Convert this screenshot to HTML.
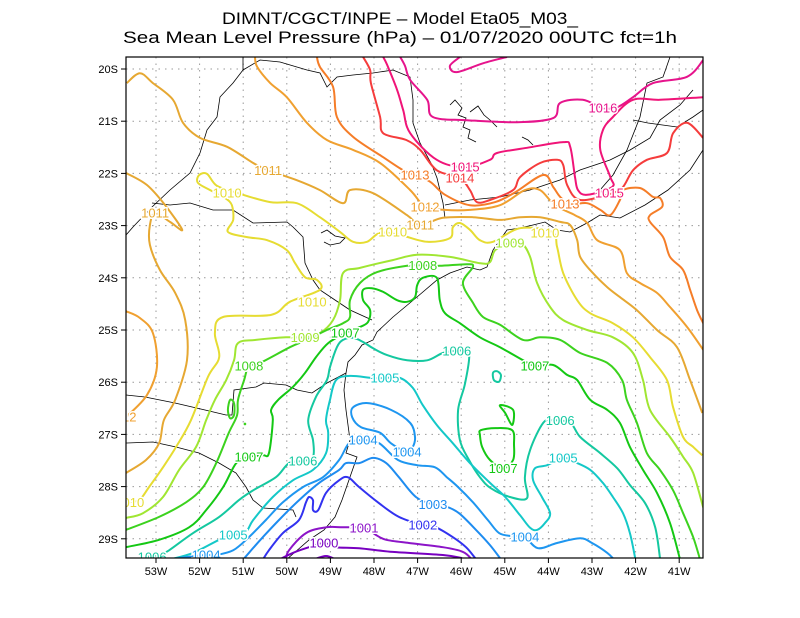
<!DOCTYPE html>
<html><head><meta charset="utf-8">
<style>
html,body{margin:0;padding:0;background:#fff;}
svg{display:block;font-family:"Liberation Sans",sans-serif;}
</style></head>
<body>
<svg id="chart" width="800" height="618" viewBox="0 0 800 618" xmlns="http://www.w3.org/2000/svg">
<rect width="800" height="618" fill="#fff"/>
<text x="400" y="24" text-anchor="middle" font-size="17" textLength="356" lengthAdjust="spacingAndGlyphs">DIMNT/CGCT/INPE –  Model Eta05_M03_</text>
<text x="400" y="43" text-anchor="middle" font-size="17" textLength="554" lengthAdjust="spacingAndGlyphs">Sea Mean Level Pressure (hPa) – 01/07/2020 00UTC fct=1h</text>
<defs><clipPath id="plotclip"><rect x="126" y="57" width="577" height="501"/></clipPath></defs>
<g id="grid"></g>
<g id="geo" clip-path="url(#plotclip)" fill="none" stroke="#000" stroke-width="0.8">
<polyline points="703,150 690,170 668,190 645,205 620,218 600,215 587,223 570,232 557,230 545,222 533,225 520,228 507,230 500,240 493,250 487,267 480,270 467,267 450,273 437,280 417,297 393,317 377,332 373,340 362,345 355,355 348,362 346,373 344,390 346,410 348,425 350,440 346,453 357,457 350,477 342,500 335,517 324,530 309,540 294,553 286,560"/>
<polyline points="243,57 243,70 233,83 220,97 217,117 207,130 200,153 190,173 170,190 152,207 133,227 126,235"/>
<polyline points="152,203 170,205 190,203 213,210 233,210 253,223 287,222 293,227 303,237 305,263 313,280 320,290 335,300 350,310 372,320"/>
<polyline points="243,70 260,60 280,62 307,70 320,73 327,87 337,77 353,75 373,73 393,70 410,77 413,100 413,123 420,143 432,165 437,178 443,203 445,218"/>
<polyline points="445,205 470,200 500,197 530,190 560,180 580,170 610,160 630,150 650,138 660,120 680,105 693,90"/>
<polyline points="670,57 663,77 647,83 640,117 627,150 613,175 600,190"/>
<polyline points="703,110 693,117 677,127 648,123 633,120"/>
<polyline points="126,395 145,397 175,403 205,410 226,415 232,415 234,390 256,387 264,383 286,385 297,390 312,393 327,383 346,373"/>
<polyline points="126,443 153,442 176,447 199,453 219,463 236,473 246,487 253,500 263,508 293,510 296,517"/>
<polyline points="450,105 455,100 462,108 458,115 466,118 463,127 470,130 468,138 476,142"/>
<polyline points="470,112 478,106 484,115 490,120 497,127"/>
<polyline points="522,137 528,140 533,145"/>
<polyline points="321,233 327,230 335,236 345,238 340,243 330,245 324,242"/>
</g>
<g id="contours" clip-path="url(#plotclip)" fill="none" stroke-width="2"></g>
<g id="labels" clip-path="url(#plotclip)" font-size="13" text-anchor="middle"></g>
<rect x="126" y="57" width="577" height="501" fill="none" stroke="#000" stroke-width="1.2"/>
<g id="axes" font-size="11"></g>
</svg>
<script>
// axis ticks (degrees W / S)
const lonTicks = [53,52,51,50,49,48,47,46,45,44,43,42,41];
const latTicks = [20,21,22,23,24,25,26,27,28,29];
const lonMin = 40.45, lonMax = 53.69, latMin = 19.77, latMax = 29.37;
function X(lon){ return 156 + (53 - lon) * 43.6; }
function Y(lat){ return 69 + (lat - 20) * 52.2; }

// isobars: [lon W, lat S]
const c1016a = [[46.03,19.77],[46.26,19.94],[46.10,20.06],[45.50,19.89],[44.95,19.77]];
const c1016 = [[47.40,19.77],[47.29,19.94],[47.17,20.21],[46.78,20.59],[46.65,20.92],[45.87,20.98],[44.72,21.02],[43.89,20.94],[43.73,20.65],[43.21,20.59],[42.75,20.75],[42.42,20.73],[42.06,20.54],[41.60,20.27],[40.82,20.15],[40.45,19.83]];
const c1015 = [[47.79,19.77],[47.70,19.92],[47.47,20.40],[47.33,20.79],[47.17,21.23],[46.56,21.74],[45.91,21.88],[45.34,21.74],[45.18,21.61],[44.49,21.51],[43.66,21.40],[43.50,21.49],[43.39,22.07],[43.32,22.32],[43.11,22.41],[42.54,22.26],[42.58,22.07],[42.81,21.55],[42.75,21.17],[42.52,20.92],[42.06,20.59],[41.44,20.59],[40.45,20.54]];
const c1014 = [[48.25,19.77],[48.09,20.02],[48.07,20.27],[47.86,20.92],[47.79,21.23],[47.26,21.36],[46.94,21.55],[46.56,21.94],[46.03,22.09],[45.80,22.32],[45.64,22.55],[45.34,22.51],[44.81,22.32],[44.65,22.07],[44.19,21.80],[43.80,21.74],[43.66,21.84],[43.57,22.22],[43.27,22.51],[42.54,22.38],[42.29,22.26],[42.06,21.94],[41.74,21.74],[41.28,21.61],[41.14,21.23],[40.82,21.03],[40.45,21.32]];
const c1013 = [[49.31,19.77],[49.24,19.96],[48.94,20.34],[48.85,20.92],[48.48,21.30],[47.79,21.69],[47.33,21.94],[47.06,22.03],[46.71,22.16],[46.37,22.41],[45.80,22.61],[45.22,22.55],[44.76,22.36],[44.12,22.03],[43.89,22.26],[43.73,22.45],[43.50,22.59],[43.11,22.57],[42.81,22.70],[42.58,22.80],[42.36,22.51],[42.29,22.32],[41.90,22.28],[41.60,22.45],[41.44,22.47],[41.39,22.64],[41.67,22.80],[41.67,22.93],[41.37,23.22],[41.21,23.60],[40.91,23.85],[40.75,24.23],[40.59,24.62],[40.45,24.87]];
const c1012 = [[50.73,19.77],[50.68,19.96],[50.38,20.27],[50.00,20.54],[49.54,21.03],[49.08,21.36],[48.48,21.55],[47.86,21.80],[47.17,22.32],[46.83,22.64],[46.37,22.70],[45.80,22.70],[45.11,22.61],[44.54,22.32],[44.19,22.32],[43.85,22.61],[43.39,22.80],[43.11,22.95],[42.88,23.28],[42.36,23.47],[42.20,23.91],[41.90,24.10],[41.51,24.29],[41.21,24.56],[40.82,24.94],[40.45,25.38]];
const c1012w = [[53.69,24.64],[53.37,24.77],[53.07,25.06],[52.98,25.71],[53.21,26.25],[53.69,26.67]];
const c1011 = [[53.67,20.27],[53.37,20.08],[53.07,20.27],[52.61,20.59],[52.38,21.03],[51.99,21.32],[51.37,21.49],[50.77,21.80],[50.43,21.94],[49.77,22.13],[49.24,22.32],[48.71,22.57],[48.55,22.32],[48.02,22.38],[47.24,22.80],[46.94,22.99],[46.42,22.85],[45.73,22.84],[45.11,22.89],[44.65,22.84],[44.19,22.84],[43.73,22.93],[43.50,22.99],[43.34,23.28],[43.27,23.60],[42.98,23.91],[42.65,24.18],[42.36,24.37],[41.97,24.62],[41.51,25.00],[41.05,25.33],[40.75,25.96],[40.47,26.59]];
const c1011w = [[53.69,21.99],[53.21,22.22],[52.79,22.61],[52.40,23.08],[52.68,22.93],[53.02,22.76],[53.14,22.99],[53.14,23.37],[52.91,23.85],[52.56,24.29],[52.33,24.81],[52.29,25.58],[52.56,26.34],[52.82,26.73],[52.93,27.17],[53.23,27.49],[53.69,27.74]];
const c1010 = [[40.47,27.40],[40.68,27.24],[40.91,27.05],[41.14,26.48],[41.28,25.96],[41.67,25.52],[42.06,25.14],[42.52,24.87],[43.04,24.68],[43.34,24.43],[43.66,23.91],[43.80,23.41],[43.92,23.12],[44.65,23.05],[45.27,23.31],[45.57,23.28],[45.80,23.08],[46.03,22.95],[46.19,23.03],[46.26,23.24],[46.78,23.31],[47.40,23.18],[47.86,23.14],[48.16,23.31],[48.48,23.31],[48.78,23.12],[49.24,22.84],[49.77,22.57],[50.38,22.55],[51.12,22.38],[51.60,22.24],[51.83,22.01],[52.01,22.03],[52.04,22.18],[51.76,22.32],[51.42,22.47],[51.26,22.61],[51.23,22.89],[51.35,23.12],[50.91,23.22],[50.45,23.28],[50.00,23.47],[49.81,23.72],[49.58,23.99],[49.31,24.04],[49.24,24.23],[49.93,24.46],[50.36,24.71],[51.46,24.75],[51.65,25.06],[51.55,25.52],[51.81,25.90],[52.20,26.73],[52.54,27.24],[52.84,27.63],[53.16,28.01],[53.39,28.26],[53.69,28.30]];
const c1009 = [[53.69,28.60],[53.30,28.51],[52.84,28.20],[52.47,27.68],[52.08,27.24],[51.85,26.73],[51.65,26.34],[51.39,25.96],[51.21,25.58],[51.12,25.25],[50.71,25.19],[50.02,25.14],[49.58,25.14],[49.24,25.06],[48.94,24.81],[48.78,24.43],[48.71,23.91],[48.32,23.81],[47.57,23.66],[47.01,23.56],[46.26,23.60],[45.57,23.72],[45.34,23.70],[45.22,23.47],[44.88,23.33],[44.60,23.35],[44.42,23.60],[44.26,24.10],[43.96,24.56],[43.66,24.81],[43.11,25.00],[42.52,25.14],[42.06,25.44],[41.83,25.96],[41.67,26.53],[41.21,27.05],[40.91,27.43],[40.68,27.74],[40.45,28.40]];
const c1008 = [[53.69,28.83],[52.93,28.58],[52.31,28.30],[51.92,28.01],[51.62,27.55],[51.33,26.97],[51.14,26.63],[51.12,26.34],[50.98,25.96],[50.87,25.69],[50.61,25.63],[49.93,25.33],[49.54,25.19],[49.08,25.00],[48.71,24.87],[48.55,24.75],[48.55,24.43],[48.32,24.10],[47.93,23.89],[47.24,23.77],[46.88,23.76],[46.49,23.77],[45.87,23.74],[45.73,23.79],[45.96,24.10],[45.73,24.48],[45.50,24.75],[45.11,24.90],[44.58,25.19],[44.19,25.14],[43.73,25.19],[43.27,25.44],[42.65,25.63],[42.31,25.96],[42.20,26.34],[41.97,26.78],[41.74,27.36],[41.44,27.68],[41.14,28.07],[40.91,28.51],[40.68,28.97],[40.52,29.40]];
const c1008loop = [[51.30,26.34],[51.21,26.40],[51.21,26.63],[51.30,26.69],[51.35,26.53]];
const c1007 = [[53.69,29.16],[52.93,29.02],[52.24,28.78],[51.85,28.45],[51.46,28.01],[51.16,27.55],[50.87,27.43],[50.55,27.40],[50.41,27.36],[50.32,26.73],[50.36,26.53],[50.20,26.34],[49.86,26.09],[49.58,25.82],[49.33,25.52],[49.05,25.25],[48.66,25.06],[48.37,24.96],[48.14,24.85],[48.09,24.62],[48.25,24.43],[48.25,24.23],[48.05,24.20],[47.79,24.27],[47.47,24.43],[47.24,24.46],[47.06,24.37],[47.01,24.14],[46.88,24.00],[46.56,24.00],[46.49,24.43],[46.37,24.68],[46.03,24.87],[45.57,25.14],[45.11,25.33],[44.58,25.58],[44.31,25.69],[43.89,25.67],[43.57,25.86],[43.34,25.96],[43.04,26.34],[42.65,26.53],[42.36,26.78],[42.13,27.24],[41.83,27.68],[41.51,28.12],[41.21,28.70],[40.98,29.40]];
const c1007loop = [[45.55,26.92],[45.22,26.88],[44.83,26.92],[44.79,27.20],[44.81,27.49],[45.04,27.65],[45.34,27.49],[45.52,27.24],[45.57,27.01]];
const c1007small = [[45.11,26.44],[44.81,26.53],[44.83,26.82],[44.99,26.59]];
const c1006 = [[53.25,29.35],[52.93,29.31],[52.70,29.22],[52.15,28.89],[51.55,28.58],[51.10,28.26],[50.77,28.07],[50.25,27.82],[49.95,27.55],[49.63,27.51],[49.40,27.43],[49.40,27.11],[49.51,26.73],[49.33,26.28],[49.08,25.96],[49.01,25.71],[48.85,25.33],[48.71,25.19],[48.48,25.15],[48.25,25.23],[48.02,25.35],[47.70,25.48],[47.24,25.58],[46.78,25.58],[46.42,25.44],[46.10,25.40],[45.82,25.44],[45.91,26.02],[46.07,26.53],[46.03,27.11],[45.82,27.49],[45.57,27.82],[45.32,28.03],[44.88,28.20],[44.49,28.22],[44.54,27.82],[44.42,27.30],[44.12,26.78],[43.89,26.73],[43.50,26.78],[43.27,27.05],[42.81,27.36],[42.42,27.65],[42.13,27.97],[41.78,28.32],[41.55,28.78],[41.44,29.37]];
const c1006loop = [[45.18,25.79],[45.09,25.86],[45.13,25.99],[45.25,25.96],[45.27,25.82]];
const c1005 = [[52.70,29.40],[52.15,29.27],[51.55,29.02],[51.23,28.93],[50.94,28.87],[50.77,28.64],[50.32,28.20],[49.86,27.88],[49.40,27.68],[49.10,27.36],[49.05,26.97],[49.10,26.73],[49.01,26.34],[48.87,25.96],[48.55,25.88],[48.02,25.92],[47.75,25.92],[47.40,25.92],[47.11,26.11],[46.88,26.44],[46.56,26.82],[46.19,27.17],[45.80,27.55],[45.34,27.93],[44.99,28.20],[44.65,28.55],[44.42,28.79],[44.26,28.83],[44.08,28.70],[43.96,28.51],[44.15,28.20],[44.35,27.88],[44.31,27.65],[44.03,27.59],[43.66,27.45],[43.39,27.53],[43.04,27.68],[42.75,27.93],[42.52,28.20],[42.29,28.51],[42.13,28.89],[42.01,29.37]];
const c1004loop = [[48.48,26.48],[48.14,26.40],[47.61,26.53],[47.17,26.78],[47.06,27.05],[47.11,27.24],[47.24,27.34],[47.61,27.17],[47.86,26.97],[48.30,26.86],[48.50,26.67]];
const c1004 = [[52.70,29.40],[52.31,29.35],[51.85,29.31],[51.62,29.31],[51.23,29.22],[50.87,28.97],[50.48,28.64],[50.09,28.30],[49.63,28.01],[49.17,27.82],[48.80,27.49],[48.57,27.17],[48.25,27.11],[47.88,27.17],[47.45,27.49],[47.01,27.59],[46.60,27.63],[46.33,27.82],[46.07,28.01],[45.73,28.30],[45.39,28.64],[45.13,28.89],[44.83,28.95],[44.54,28.97],[44.24,29.18],[43.80,29.08],[43.27,28.99],[43.00,29.08],[42.65,29.27],[42.49,29.40]];
const c1003 = [[51.00,29.40],[50.87,29.27],[50.55,28.97],[50.18,28.64],[49.72,28.26],[49.26,27.93],[48.80,27.68],[48.64,27.55],[48.34,27.55],[48.02,27.45],[47.72,27.55],[47.43,27.82],[47.04,28.20],[46.65,28.34],[46.35,28.38],[46.05,28.51],[45.66,28.83],[45.34,29.12],[45.11,29.37]];
const c1002 = [[50.55,29.40],[50.41,29.22],[50.09,28.89],[49.72,28.64],[49.56,28.30],[49.49,28.20],[49.40,28.26],[49.40,28.45],[49.28,28.45],[49.10,28.12],[48.80,27.88],[48.60,27.82],[48.34,28.01],[47.88,28.32],[47.43,28.58],[46.88,28.74],[46.58,28.78],[46.19,28.97],[45.89,29.16],[45.68,29.37]];
const c1001 = [[50.02,29.40],[49.95,29.22],[49.56,28.89],[49.10,28.78],[48.71,28.78],[48.23,28.79],[47.95,28.93],[47.72,29.02],[47.20,29.08],[46.42,29.16],[45.96,29.25],[45.75,29.40]];
const c1000 = [[50.18,29.40],[49.86,29.27],[49.49,29.16],[49.15,29.08],[48.87,29.16],[48.34,29.18],[47.57,29.25],[46.42,29.31],[45.98,29.37]];
const c1000b = [[49.40,29.40],[49.10,29.33],[48.87,29.40]];

// label values and locations
const labelLevels = [1016,1014,1015,1015,1013,1013,1012,1012,1011,1011,1011,1010,1010,1010,1010,1010,1009,1009,1008,1008,1007,1007,1007,1007,1006,1006,1006,1006,1005,1005,1005,1004,1004,1004,1004,1003,1002,1001,1000];
const labelLons = [42.75,46.03,45.91,42.60,47.06,43.62,46.83,53.78,50.43,46.94,53.02,51.37,47.57,44.08,49.42,53.60,49.58,44.88,50.87,46.88,50.87,48.66,44.31,45.04,53.09,49.63,46.10,43.73,51.23,47.75,43.66,51.85,48.25,47.24,44.54,46.65,46.88,48.23,49.15];
const labelLats = [20.75,22.09,21.88,22.38,22.03,22.59,22.64,26.67,21.94,22.99,22.76,22.38,23.12,23.14,24.46,28.30,25.14,23.33,25.69,23.76,27.43,25.06,25.69,27.65,29.35,27.51,25.40,26.73,28.93,25.92,27.45,29.31,27.11,27.34,28.97,28.34,28.74,28.79,29.08];

const levelColor = {1016:'#e6148c',1015:'#f01478',1014:'#f53c3c',1013:'#f57d28',1012:'#f0a030',1011:'#e6a832',1010:'#e6dc32',1009:'#a0e632',1008:'#3cd21e',1007:'#14c814',1006:'#14c8a0',1005:'#14c8c8',1004:'#1e96f0',1003:'#1e8cf0',1002:'#3232f0',1001:'#8c14c8',1000:'#7800c0'};

const NS = 'http://www.w3.org/2000/svg';
function smoothPath(pts, closed){
  const p = pts.map(q => [X(q[0]), Y(q[1])]);
  const n = p.length;
  if (n < 2) return '';
  let d = 'M' + p[0][0].toFixed(1) + ',' + p[0][1].toFixed(1);
  const get = i => closed ? p[(i + n) % n] : p[Math.max(0, Math.min(n - 1, i))];
  const segs = closed ? n : n - 1;
  for (let i = 0; i < segs; i++){
    const p0 = get(i - 1), p1 = get(i), p2 = get(i + 1), p3 = get(i + 2);
    const c1x = p1[0] + (p2[0] - p0[0]) / 6, c1y = p1[1] + (p2[1] - p0[1]) / 6;
    const c2x = p2[0] - (p3[0] - p1[0]) / 6, c2y = p2[1] - (p3[1] - p1[1]) / 6;
    d += 'C' + c1x.toFixed(1) + ',' + c1y.toFixed(1) + ' ' + c2x.toFixed(1) + ',' + c2y.toFixed(1) + ' ' + p2[0].toFixed(1) + ',' + p2[1].toFixed(1);
  }
  if (closed) d += 'Z';
  return d;
}

// grid + axes
const grid = document.getElementById('grid');
const axes = document.getElementById('axes');
lonTicks.forEach(lon => {
  const x = X(lon);
  const g = document.createElementNS(NS, 'line');
  
  
  g.setAttribute('x1', x); g.setAttribute('x2', x); g.setAttribute('y1', 57); g.setAttribute('y2', 558);
  g.setAttribute('stroke', '#999'); g.setAttribute('stroke-width', '1'); g.setAttribute('stroke-dasharray', '1.5 5');
  grid.appendChild(g);
  const t = document.createElementNS(NS, 'line');
  
  
  t.setAttribute('x1', x); t.setAttribute('x2', x); t.setAttribute('y1', 558); t.setAttribute('y2', 563);
  t.setAttribute('stroke', '#000');
  axes.appendChild(t);
  const lab = document.createElementNS(NS, 'text');
  
  
  lab.setAttribute('x', x); lab.setAttribute('y', 575); lab.setAttribute('text-anchor', 'middle');
  lab.textContent = lon + 'W';
  axes.appendChild(lab);
});
latTicks.forEach(lat => {
  const y = Y(lat);
  const g = document.createElementNS(NS, 'line');
  
  
  g.setAttribute('x1', 126); g.setAttribute('x2', 703); g.setAttribute('y1', y); g.setAttribute('y2', y);
  g.setAttribute('stroke', '#999'); g.setAttribute('stroke-width', '1'); g.setAttribute('stroke-dasharray', '1.5 5');
  grid.appendChild(g);
  const t = document.createElementNS(NS, 'line');
  
  
  t.setAttribute('x1', 121); t.setAttribute('x2', 126); t.setAttribute('y1', y); t.setAttribute('y2', y);
  t.setAttribute('stroke', '#000');
  axes.appendChild(t);
  const lab = document.createElementNS(NS, 'text');
  
  
  lab.setAttribute('x', 118); lab.setAttribute('y', y + 4); lab.setAttribute('text-anchor', 'end');
  lab.textContent = lat + 'S';
  axes.appendChild(lab);
});

// contours
const contourList = [
  [1016, c1016a, false], [1016, c1016, false], [1015, c1015, false], [1014, c1014, false],
  [1013, c1013, false], [1012, c1012, false], [1012, c1012w, false], [1011, c1011, false], [1011, c1011w, false],
  [1010, c1010, false], [1009, c1009, false], [1008, c1008, false], [1008, c1008loop, true],
  [1007, c1007, false], [1007, c1007loop, true], [1007, c1007small, true],
  [1006, c1006, false], [1006, c1006loop, true], [1005, c1005, false],
  [1004, c1004loop, true], [1004, c1004, false], [1003, c1003, false], [1002, c1002, false],
  [1001, c1001, false], [1000, c1000, false], [1000, c1000b, false]
];
const cg = document.getElementById('contours');
contourList.forEach(c => {
  const path = document.createElementNS(NS, 'path');
  
  
  path.setAttribute('d', smoothPath(c[1], c[2]));
  path.setAttribute('stroke', levelColor[c[0]]);
  path.setAttribute('stroke-linejoin', 'round');
  cg.appendChild(path);
});
const dot = document.createElementNS(NS, 'circle');


dot.setAttribute('cx', X(50.96)); dot.setAttribute('cy', Y(26.80)); dot.setAttribute('r', 1.3);
dot.setAttribute('fill', levelColor[1008]);
cg.appendChild(dot);

// labels
const lg = document.getElementById('labels');
labelLevels.forEach((lev, i) => {
  const t = document.createElementNS(NS, 'text');
  
  
  t.setAttribute('x', X(labelLons[i]).toFixed(1));
  t.setAttribute('y', (Y(labelLats[i]) + 4.5).toFixed(1));
  t.setAttribute('fill', levelColor[lev]);
  t.setAttribute('stroke', '#fff');
  t.setAttribute('stroke-width', '3');
  t.setAttribute('paint-order', 'stroke');
  t.textContent = lev;
  lg.appendChild(t);
});
</script>
</body></html>
